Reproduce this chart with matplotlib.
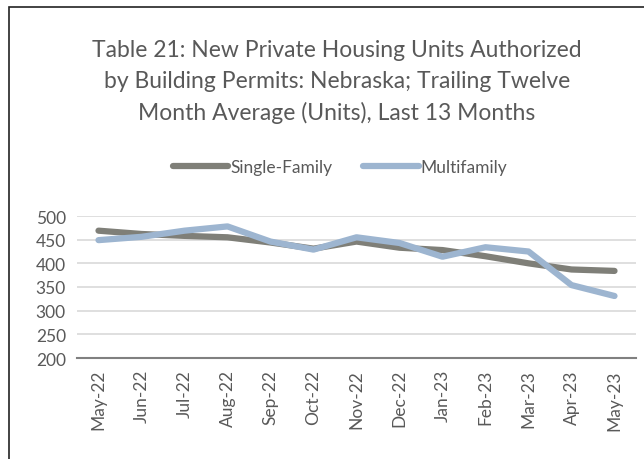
import matplotlib.pyplot as plt
from matplotlib.patches import Rectangle

plt.rcParams['font.family'] = ['Lato', 'DejaVu Sans']

# Data
months = ['May-22', 'Jun-22', 'Jul-22', 'Aug-22', 'Sep-22', 'Oct-22', 'Nov-22',
          'Dec-22', 'Jan-23', 'Feb-23', 'Mar-23', 'Apr-23', 'May-23']
single_family = [469, 462, 458, 455, 444, 431, 446, 433, 428, 415, 400, 387, 384]
multifamily = [449, 456, 469, 478, 446, 429, 455, 443, 414, 434, 425, 354, 331]

text_col = '#595959'

fig = plt.figure(figsize=(6.44, 4.6), dpi=100)

# chart border (only top/left visible in the crop)
fig.patches.append(Rectangle((9 / 644, -0.1), 1.2, 1.1 - 8 / 460, transform=fig.transFigure,
                             fill=False, edgecolor='#222222', linewidth=1.2))

ax = fig.add_axes([77 / 644, 1 - 359 / 460, (636 - 77) / 644, (359 - 217) / 460])

x = list(range(len(months)))
ax.plot(x, single_family, color='#7f7f78', linewidth=4.5, solid_capstyle='round',
        label='Single-Family')
ax.plot(x, multifamily, color='#9db5d0', linewidth=4.5, solid_capstyle='round',
        label='Multifamily')

ax.set_xlim(-0.5, len(months) - 0.5)
ax.set_ylim(200, 500)
ax.set_yticks(range(200, 501, 50))
ax.set_xticks(x)
ax.set_xticklabels(months, rotation=90)
ax.tick_params(axis='both', length=0, labelsize=12.5, colors=text_col)
ax.tick_params(axis='x', pad=8)
ax.tick_params(axis='y', pad=8)

ax.grid(axis='y', color='#d9d9d9', linewidth=1.2)
ax.set_axisbelow(True)
for s in ['top', 'right', 'left']:
    ax.spines[s].set_visible(False)
ax.spines['bottom'].set_color('#808080')
ax.spines['bottom'].set_linewidth(1.5)

fig.text(337 / 644, 1 - 82 / 460,
         'Table 21: New Private Housing Units Authorized\n'
         'by Building Permits: Nebraska; Trailing Twelve\n'
         'Month Average (Units), Last 13 Months',
         ha='center', va='center', fontsize=16.5, color=text_col, linespacing=1.55)

fig.legend(loc='center', bbox_to_anchor=(340 / 644, 1 - 168 / 460), ncol=2, frameon=False,
           fontsize=12.5, labelcolor=text_col, handlelength=3.2, handletextpad=0.1,
           columnspacing=1.8)

fig.savefig('out.png', dpi=100)
